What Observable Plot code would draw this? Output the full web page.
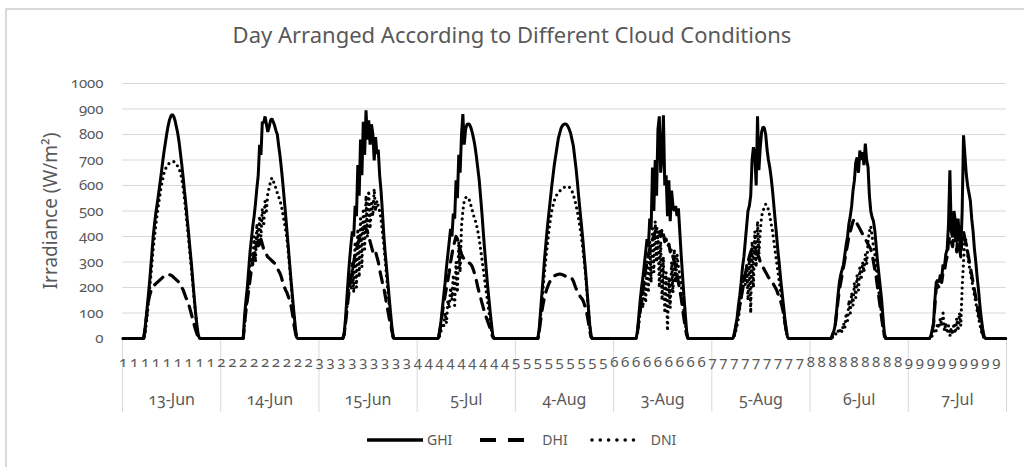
<!DOCTYPE html>
<html>
<head>
<meta charset="utf-8">
<script src="https://cdn.jsdelivr.net/npm/d3@7"></script>
<script src="https://cdn.jsdelivr.net/npm/@observablehq/plot@0.6"></script>
<style>
  html, body { margin: 0; padding: 0; background: #fff; }
  #chart { position: relative; width: 1024px; height: 467px; overflow: hidden;
           font-family: "Noto Sans", sans-serif; font-variant-numeric: oldstyle-nums; font-feature-settings: "onum" 1; color: #595959; }
  #border { position: absolute; left: 5px; top: 8px; width: 1030px; height: 480px;
            border-left: 2px solid #d9d9d9; border-top: 2px solid #d9d9d9; box-sizing: border-box; }
  #plot { position: absolute; left: 0; top: 0; }
  #title { position: absolute; left: 0; top: 21px; width: 1024px; text-align: center;
           font-size: 22px; line-height: 26px; color: #595959; white-space: nowrap; }
  #ylabel { position: absolute; left: 50px; top: 211px; transform: translate(-50%, -50%) rotate(-90deg);
            font-size: 19px; line-height: 22px; white-space: nowrap; color: #595959; }
  #legend { position: absolute; left: 367px; top: 431px; display: flex; align-items: center;
            font-size: 14px; line-height: 18px; color: #595959; }
  #legend svg { display: block; }
</style>
</head>
<body>
<div id="chart">
  <div id="border"></div>
  <div id="plot"></div>
  <div id="title">Day Arranged According to Different Cloud Conditions</div>
  <div id="ylabel">Irradiance (W/m²)</div>
  <div id="legend"></div>
</div>
<script>
// ---- Data (20-minute slots, daytime window starting at slot 15 = 05:00; night values are 0) ----
const dates = ["13-Jun", "14-Jun", "15-Jun", "5-Jul", "4-Aug", "3-Aug", "5-Aug", "6-Jul", "7-Jul"];
const seriesNames = ["GHI", "DHI", "DNI"];
const slotsPerDay = 72;
const firstSlot = 15;
const yTicks = [0, 100, 200, 300, 400, 500, 600, 700, 800, 900, 1000];

const ghiByDay = [
  [0,40,90,145,200,265,330,400,450,495,530,570,610,650,695,735,770,805,835,858,873,878,872,855,830,805,770,725,680,630,575,525,465,410,350,295,230,165,105,55,15,0],
  [0,0,90,150,200,270,340,390,440,480,530,590,640,760,720,850,845,871,840,810,830,855,862,850,835,815,800,755,715,665,610,550,490,425,360,295,230,170,110,55,5,0],
  [0,0,0,20,80,160,240,310,370,420,400,520,480,680,560,780,640,850,720,895,780,856,760,840,803,698,790,724,740,640,580,500,410,340,280,220,160,100,45,5,0,0],
  [0,30,70,120,170,220,280,330,380,430,400,490,470,620,550,720,650,800,880,760,820,840,842,838,825,805,780,750,710,665,620,555,490,415,345,280,215,160,105,55,10,0],
  [0,0,40,110,180,250,320,380,440,490,540,590,635,680,715,750,785,805,825,835,840,842,840,832,820,805,780,755,710,665,610,550,495,440,385,320,260,190,120,55,10,0],
  [0,0,30,90,150,200,240,290,340,390,360,470,430,670,500,700,560,820,871,650,720,875,600,640,480,620,460,580,520,500,520,480,510,420,330,250,170,100,30,0,0,0],
  [0,20,50,80,130,170,220,280,320,380,440,500,520,560,700,750,720,600,871,660,750,810,830,825,800,740,700,670,630,580,520,460,400,340,290,230,180,130,80,40,5,0],
  [0,15,30,55,110,170,220,250,270,290,330,370,400,450,480,520,580,620,690,710,650,737,700,731,680,764,700,672,560,500,475,460,422,360,300,250,200,150,80,20,0,0],
  [0,10,30,60,150,220,230,220,250,240,290,280,330,350,450,660,420,396,500,460,380,470,400,340,500,797,720,645,600,570,540,470,420,350,300,240,190,130,80,40,10,0]
];
const dhiByDay = [
  [0,30,80,130,160,180,195,205,210,215,220,225,230,235,240,245,248,250,252,250,248,245,240,235,230,225,220,210,200,190,175,160,150,135,115,95,75,55,35,20,5,0],
  [0,0,60,110,150,190,230,270,300,330,350,370,385,360,390,370,350,340,330,320,315,310,305,300,295,285,275,265,255,240,220,205,190,180,165,150,130,100,60,30,5,0],
  [0,0,0,15,60,110,160,200,240,270,300,330,350,370,390,410,420,430,440,430,420,400,380,360,340,330,340,320,300,270,245,220,200,170,140,110,80,55,30,3,0,0],
  [0,25,60,100,140,170,200,230,260,300,330,360,380,400,390,370,350,330,320,310,305,300,298,295,290,280,265,245,225,200,180,160,140,120,100,85,70,55,40,20,5,0],
  [0,0,30,70,110,140,165,185,200,215,225,235,240,245,248,250,252,253,252,250,248,245,242,240,240,240,235,225,210,195,185,175,165,158,150,135,115,95,65,30,5,0],
  [0,0,25,70,110,150,190,230,270,300,330,350,370,390,400,420,430,440,420,400,430,410,380,390,360,370,340,350,320,300,280,250,220,190,160,120,80,45,15,0,0,0],
  [0,15,40,70,100,130,160,190,220,250,280,300,320,340,350,360,350,340,330,320,300,290,280,270,260,250,240,235,228,220,210,200,190,175,160,145,125,100,65,30,3,0],
  [0,15,30,55,100,150,190,220,250,280,310,340,370,400,420,440,460,470,460,450,440,430,420,410,400,390,380,370,360,350,330,300,270,240,200,160,120,80,40,10,0,0],
  [0,10,30,55,130,200,210,200,230,220,260,260,300,320,380,400,380,360,420,410,340,420,360,320,400,420,390,370,340,310,280,250,220,190,160,130,100,70,45,20,5,0]
];
const dniByDay = [
  [0,20,60,110,170,230,290,350,400,450,490,530,565,600,625,650,665,675,683,688,690,692,694,690,685,675,665,650,625,590,545,495,440,385,330,275,215,155,100,50,10,0],
  [0,0,60,110,160,220,280,330,290,400,300,450,360,480,400,510,440,540,500,570,590,615,630,620,600,590,570,555,540,520,490,460,430,395,340,280,220,160,100,45,5,0],
  [0,0,0,15,60,120,180,250,190,300,180,380,200,430,240,470,280,510,350,560,400,580,430,540,480,587,500,540,520,500,470,420,370,310,250,190,130,75,30,3,0,0],
  [0,10,30,60,50,100,60,150,120,200,150,250,130,300,180,380,260,440,500,540,552,556,550,540,520,500,480,465,445,420,390,350,310,270,230,190,150,110,70,30,5,0],
  [0,0,30,90,150,210,270,320,370,420,460,495,520,540,555,565,572,578,584,588,592,595,596,596,594,588,578,562,545,522,495,465,430,395,350,300,245,180,115,50,8,0],
  [0,0,20,60,110,160,120,230,140,300,180,380,220,430,260,460,300,420,200,380,150,320,100,260,30,240,120,300,180,350,220,330,280,250,210,160,110,60,20,0,0,0],
  [0,10,30,50,80,120,160,200,250,210,290,150,330,100,380,200,420,280,460,330,420,480,500,515,527,520,505,480,450,420,380,340,300,260,220,180,140,100,60,25,5,0],
  [0,5,10,20,15,30,20,40,25,60,40,100,70,150,100,180,130,220,160,250,190,280,230,300,260,330,290,380,420,440,400,360,330,280,230,180,140,90,45,10,0,0],
  [0,5,10,20,40,30,60,40,80,50,100,30,60,20,50,10,40,15,60,20,80,30,100,50,200,300,400,380,330,290,260,230,200,170,140,110,80,55,30,10,3,0]
];

// ---- Build table ----
const rows = [];
dates.forEach((date, d) => {
  for (let s = 0; s < slotsPerDay; s++) {
    const k = s - firstSlot;
    const pick = arr => (k >= 0 && k < arr[d].length ? arr[d][k] : 0);
    rows.push({ t: d * slotsPerDay + s + 0.5, day: d + 1, ghi: pick(ghiByDay), dhi: pick(dhiByDay), dni: pick(dniByDay) });
  }
});
const total = dates.length * slotsPerDay;
const labelEvery = 8;
const grey = "#595959";
const font = "'Noto Sans', sans-serif";

const chart = Plot.plot({
  width: 1024,
  height: 467,
  marginLeft: 122,
  marginRight: 18,
  marginTop: 83,
  marginBottom: 129,
  x: { domain: [0, total], axis: null },
  y: { domain: [0, 1000], axis: null },
  style: { fontFamily: font, background: "transparent", overflow: "visible", fontVariantNumeric: "oldstyle-nums" },
  marks: [
    Plot.gridY(yTicks.slice(1), { stroke: "#d9d9d9", strokeOpacity: 1, strokeWidth: 1 }),
    Plot.axisY(yTicks, {
      tickSize: 0, tickPadding: 19, fontSize: 15, fill: grey, label: null,
      tickFormat: d => String(d)
    }),
    Plot.axisX(d3.range(0, total + 1, slotsPerDay), {
      tickSize: 74, stroke: "#d9d9d9", strokeOpacity: 1, tickFormat: () => "", label: null
    }),
    Plot.axisX(d3.range(0, total, labelEvery).map(i => i + 0.5), {
      tickSize: 0, tickPadding: 18, fontSize: 15, fill: grey, label: null,
      tickFormat: t => String(Math.floor(t / slotsPerDay) + 1)
    }),
    Plot.axisX(dates.map((_, i) => i * slotsPerDay + slotsPerDay / 2), {
      tickSize: 0, tickPadding: 55, fontSize: 16, fill: grey, label: null,
      tickFormat: t => dates[Math.floor(t / slotsPerDay)]
    }),
    Plot.line(rows, { x: "t", y: "ghi", stroke: "#000", strokeWidth: 3, strokeLinejoin: "miter" }),
    Plot.line(rows, { x: "t", y: "dhi", stroke: "#000", strokeWidth: 3.2, strokeDasharray: "11,8" }),
    Plot.line(rows, { x: "t", y: "dni", stroke: "#000", strokeWidth: 3.2, strokeDasharray: "0,5.5", strokeLinecap: "round" })
  ]
});
chart.style.fontFeatureSettings = "'onum' 1";
document.getElementById("plot").appendChild(chart);

// ---- Legend ----
const legendStyles = {
  GHI: { w: 56, dash: null, width: 3.3, cap: "butt", gapAfterLine: 4, gapAfterText: 28 },
  DHI: { w: 44, dash: "16,12", width: 4, cap: "butt", gapAfterLine: 18, gapAfterText: 22 },
  DNI: { w: 50, dash: "0,8.3", width: 3.6, cap: "round", gapAfterLine: 11, gapAfterText: 0 }
};
const legend = d3.select("#legend");
seriesNames.forEach(name => {
  const st = legendStyles[name];
  const svg = legend.append("svg").attr("width", st.w).attr("height", 10).style("margin-right", st.gapAfterLine + "px");
  svg.append("line").attr("x1", st.cap === "round" ? 2 : 0).attr("x2", st.w).attr("y1", 5).attr("y2", 5)
    .attr("stroke", "#000").attr("stroke-width", st.width).attr("stroke-linecap", st.cap)
    .attr("stroke-dasharray", st.dash);
  legend.append("span").text(name).style("margin-right", st.gapAfterText + "px");
});
</script>
</body>
</html>
